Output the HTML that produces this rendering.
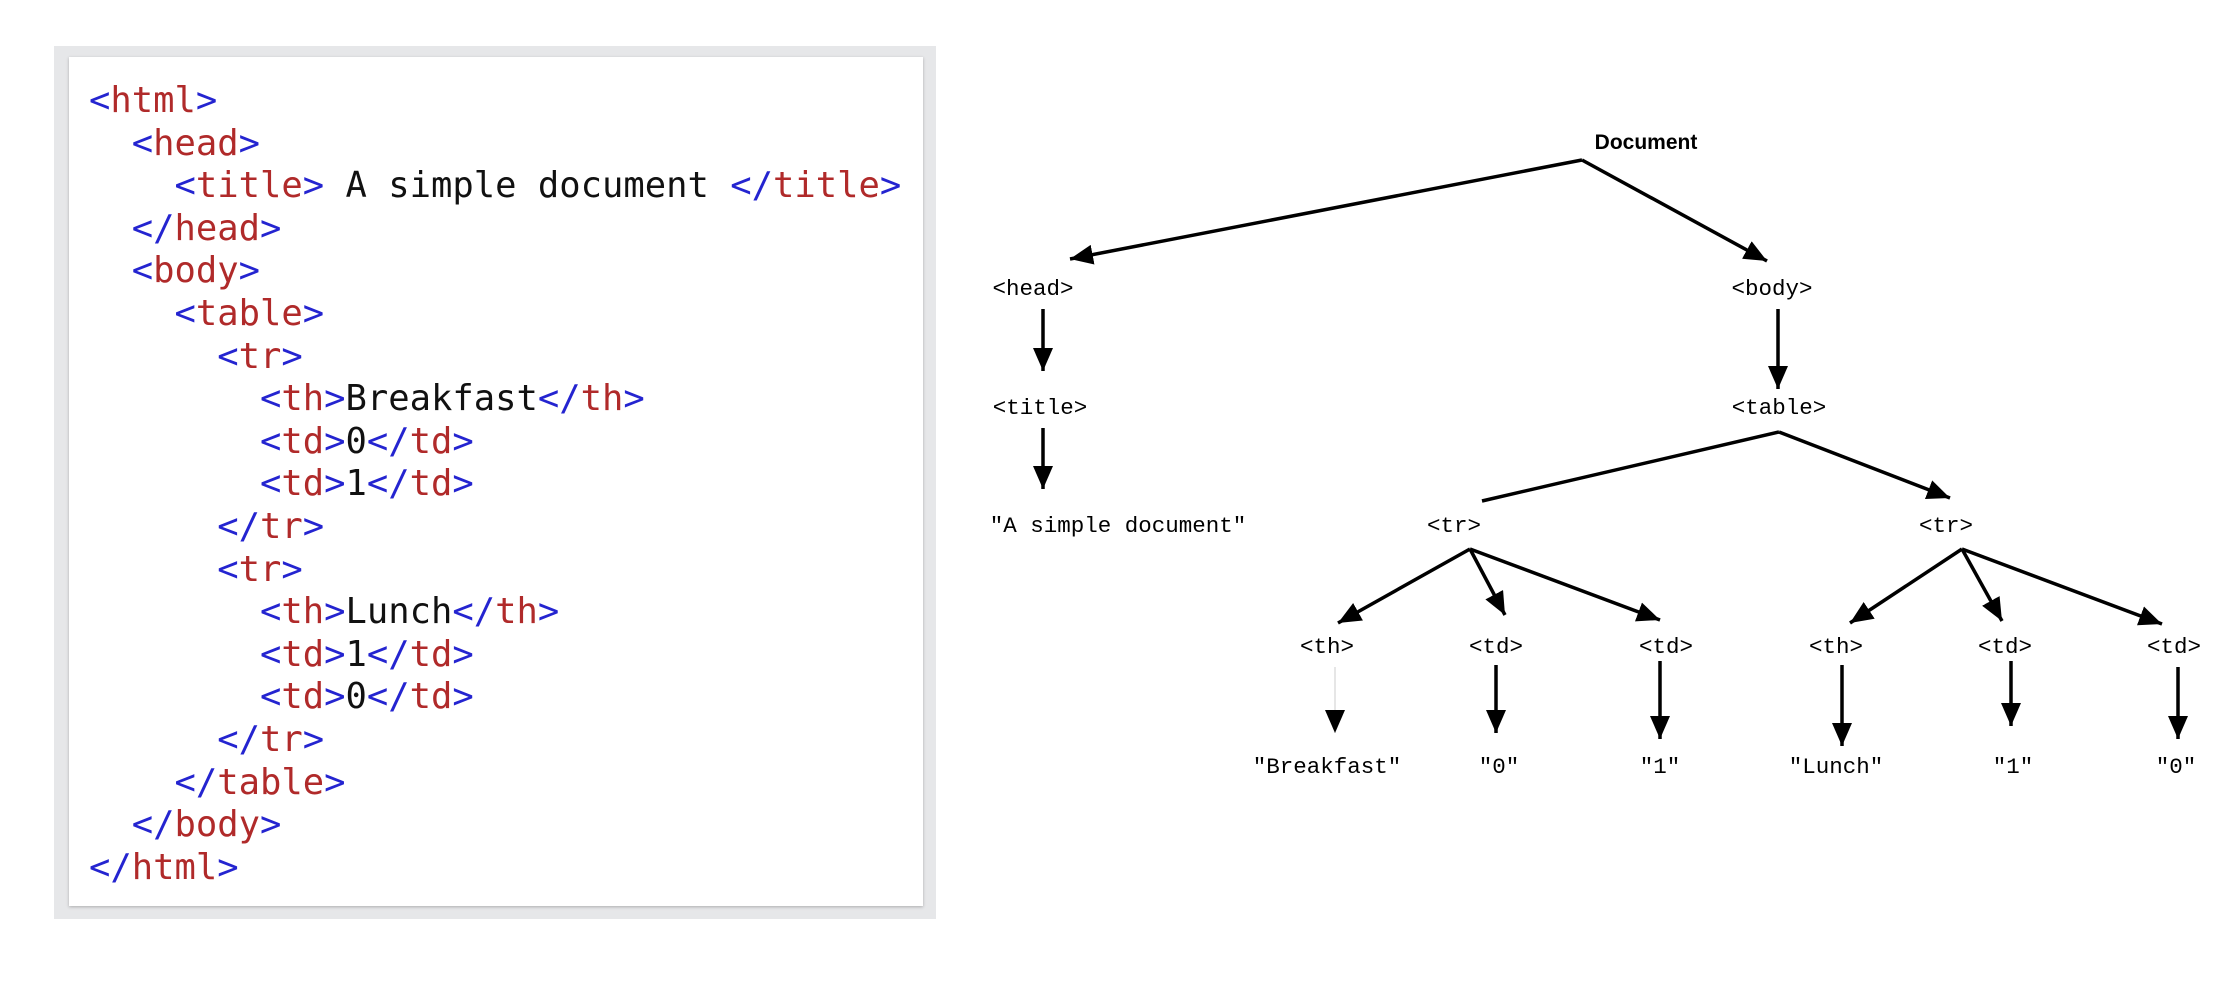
<!DOCTYPE html>
<html><head><meta charset="utf-8"><style>
body{margin:0;width:2234px;height:984px;background:#fff;position:relative;overflow:hidden}
.outer{position:absolute;left:54px;top:46px;width:882px;height:873px;background:#e6e7e9}
.inner{position:absolute;left:69px;top:57px;width:854px;height:849px;background:#fff;box-shadow:0 1px 3px rgba(0,0,0,0.25)}
pre{position:absolute;left:89px;top:80px;margin:0;font-family:"DejaVu Sans Mono","Liberation Mono",monospace;font-size:35.5px;line-height:42.6px;color:#111}
.b{color:#2424d0}.r{color:#b02a2a}
svg{position:absolute;left:0;top:0}
</style></head><body>
<div class="outer"></div><div class="inner"></div>
<pre><span class="b">&lt;</span><span class="r">html</span><span class="b">&gt;</span>
  <span class="b">&lt;</span><span class="r">head</span><span class="b">&gt;</span>
    <span class="b">&lt;</span><span class="r">title</span><span class="b">&gt;</span> A simple document <span class="b">&lt;/</span><span class="r">title</span><span class="b">&gt;</span>
  <span class="b">&lt;/</span><span class="r">head</span><span class="b">&gt;</span>
  <span class="b">&lt;</span><span class="r">body</span><span class="b">&gt;</span>
    <span class="b">&lt;</span><span class="r">table</span><span class="b">&gt;</span>
      <span class="b">&lt;</span><span class="r">tr</span><span class="b">&gt;</span>
        <span class="b">&lt;</span><span class="r">th</span><span class="b">&gt;</span>Breakfast<span class="b">&lt;/</span><span class="r">th</span><span class="b">&gt;</span>
        <span class="b">&lt;</span><span class="r">td</span><span class="b">&gt;</span>0<span class="b">&lt;/</span><span class="r">td</span><span class="b">&gt;</span>
        <span class="b">&lt;</span><span class="r">td</span><span class="b">&gt;</span>1<span class="b">&lt;/</span><span class="r">td</span><span class="b">&gt;</span>
      <span class="b">&lt;/</span><span class="r">tr</span><span class="b">&gt;</span>
      <span class="b">&lt;</span><span class="r">tr</span><span class="b">&gt;</span>
        <span class="b">&lt;</span><span class="r">th</span><span class="b">&gt;</span>Lunch<span class="b">&lt;/</span><span class="r">th</span><span class="b">&gt;</span>
        <span class="b">&lt;</span><span class="r">td</span><span class="b">&gt;</span>1<span class="b">&lt;/</span><span class="r">td</span><span class="b">&gt;</span>
        <span class="b">&lt;</span><span class="r">td</span><span class="b">&gt;</span>0<span class="b">&lt;/</span><span class="r">td</span><span class="b">&gt;</span>
      <span class="b">&lt;/</span><span class="r">tr</span><span class="b">&gt;</span>
    <span class="b">&lt;/</span><span class="r">table</span><span class="b">&gt;</span>
  <span class="b">&lt;/</span><span class="r">body</span><span class="b">&gt;</span>
<span class="b">&lt;/</span><span class="r">html</span><span class="b">&gt;</span></pre>
<svg width="2234" height="984" viewBox="0 0 2234 984">
<defs><marker id="a" markerUnits="userSpaceOnUse" markerWidth="26" markerHeight="22" refX="23" refY="10" orient="auto"><path d="M0,0 L23,10 L0,20 Z" fill="#000"/></marker></defs>
<g stroke="#000" stroke-width="3.5" fill="none" marker-end="url(#a)">
<line x1="1582" y1="160" x2="1070" y2="259"/>
<line x1="1582" y1="160" x2="1767" y2="261"/>
<line x1="1043" y1="309" x2="1043" y2="371"/>
<line x1="1778" y1="309" x2="1778" y2="389"/>
<line x1="1043" y1="428" x2="1043" y2="489"/>
<line x1="1779" y1="432" x2="1950" y2="498"/>
<line x1="1470" y1="549" x2="1338" y2="623"/>
<line x1="1470" y1="549" x2="1505" y2="615"/>
<line x1="1470" y1="549" x2="1660" y2="620"/>
<line x1="1962" y1="549" x2="1850" y2="623"/>
<line x1="1962" y1="549" x2="2002" y2="621"/>
<line x1="1962" y1="549" x2="2162" y2="624"/>
<line x1="1335" y1="667" x2="1335" y2="733" stroke="#ccc" stroke-width="1"/>
<line x1="1496" y1="665" x2="1496" y2="733"/>
<line x1="1660" y1="661" x2="1660" y2="739"/>
<line x1="1842" y1="665" x2="1842" y2="746"/>
<line x1="2011" y1="661" x2="2011" y2="726"/>
<line x1="2178" y1="667" x2="2178" y2="739"/>
</g>
<line x1="1779" y1="432" x2="1482" y2="501" stroke="#000" stroke-width="3.5"/>
<text x="1646" y="149" font-family="Liberation Sans, sans-serif" font-weight="bold" font-size="21" text-anchor="middle">Document</text>
<g font-family="Liberation Mono, monospace" font-size="22.5" text-anchor="middle">
<text x="1033" y="295">&lt;head&gt;</text>
<text x="1772" y="295">&lt;body&gt;</text>
<text x="1040" y="414">&lt;title&gt;</text>
<text x="1779" y="414">&lt;table&gt;</text>
<text x="1118" y="532">"A simple document"</text>
<text x="1454" y="532">&lt;tr&gt;</text>
<text x="1946" y="532">&lt;tr&gt;</text>
<text x="1327" y="653">&lt;th&gt;</text>
<text x="1496" y="653">&lt;td&gt;</text>
<text x="1666" y="653">&lt;td&gt;</text>
<text x="1836" y="653">&lt;th&gt;</text>
<text x="2005" y="653">&lt;td&gt;</text>
<text x="2174" y="653">&lt;td&gt;</text>
<text x="1327" y="773">"Breakfast"</text>
<text x="1499" y="773">"0"</text>
<text x="1660" y="773">"1"</text>
<text x="1836" y="773">"Lunch"</text>
<text x="2013" y="773">"1"</text>
<text x="2176" y="773">"0"</text>
</g>
</svg>
</body></html>
